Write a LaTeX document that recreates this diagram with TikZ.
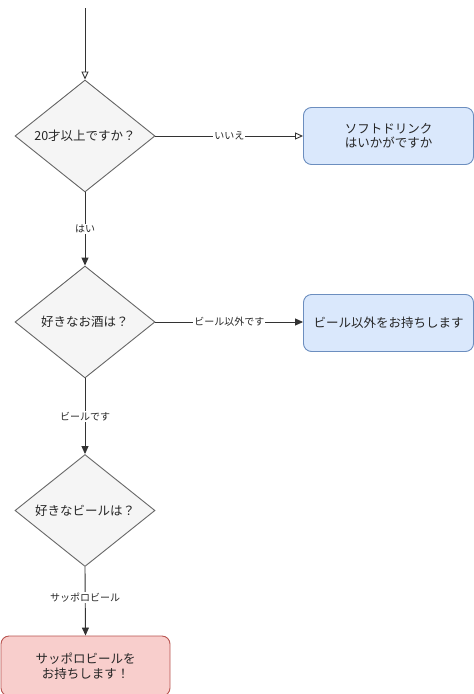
\documentclass[tikz,border=0pt]{standalone}
\usepackage{fontspec}
\setmainfont{Noto Sans CJK JP}
\usetikzlibrary{shapes.geometric,arrows.meta}
\definecolor{dfill}{HTML}{F5F5F5}
\definecolor{dline}{HTML}{666666}
\definecolor{bfill}{HTML}{DAE8FC}
\definecolor{bline}{HTML}{6C8EBF}
\definecolor{rfill}{HTML}{F8CECC}
\definecolor{rline}{HTML}{B85450}
\definecolor{eline}{HTML}{333333}
\tikzset{
  decision/.style={diamond, draw=dline, fill=dfill, line width=0.9pt, inner sep=0pt,
    minimum width=140pt, minimum height=112pt, aspect=1.25,
    font=\fontsize{12.5}{14.5}\selectfont, text=black!85},
  bluebox/.style={draw=bline, fill=bfill, rounded corners=8pt, line width=0.9pt,
    minimum width=170pt, minimum height=57pt, align=center,
    font=\fontsize{12.5}{14.5}\selectfont, text=black!85},
  redbox/.style={draw=rline, fill=rfill, rounded corners=8pt, line width=0.9pt,
    minimum width=169pt, minimum height=60pt, align=center,
    font=\fontsize{12.5}{14.5}\selectfont, text=black!85},
  edge/.style={draw=eline, line width=0.9pt},
  openarrow/.style={-{Triangle[open,length=8pt,width=7pt]}},
  fullarrow/.style={-{Triangle[length=8pt,width=7pt]}},
  elabel/.style={fill=white, inner sep=1pt, font=\fontsize{10}{12}\selectfont, text=black!85},
}
\begin{document}
\begin{tikzpicture}[x=1pt,y=-1pt]
\useasboundingbox (0,0) rectangle (474,694);
\coordinate (start) at (85,8);
\node[decision] (d1) at (85,136) {20才以上ですか？};
\node[bluebox] (soft) at (388.5,136) {ソフトドリンク\\はいかがですか};
\node[decision] (d2) at (85,322) {好きなお酒は？};
\node[bluebox] (other) at (388.5,323) {ビール以外をお持ちします};
\node[decision] (d3) at (85,510.5) {好きなビールは？};
\node[redbox] (sapporo) at (85.5,666) {サッポロビールを\\お持ちします！};

\draw[edge,openarrow] (start) -- (d1.north);
\draw[edge,openarrow] (d1.east) -- node[elabel,pos=0.5] {いいえ} (soft.west);
\draw[edge,fullarrow] (d1.south) -- node[elabel,pos=0.5] {はい} (d2.north);
\draw[edge,fullarrow] (d2.east) -- node[elabel,pos=0.5] {ビール以外です} (other.west |- d2.east);
\draw[edge,fullarrow] (d2.south) -- node[elabel,pos=0.5] {ビールです} (d3.north);
\draw[edge,fullarrow] (d3.south) -- node[elabel,pos=0.45] {サッポロビール} (sapporo.north);
\end{tikzpicture}
\end{document}
